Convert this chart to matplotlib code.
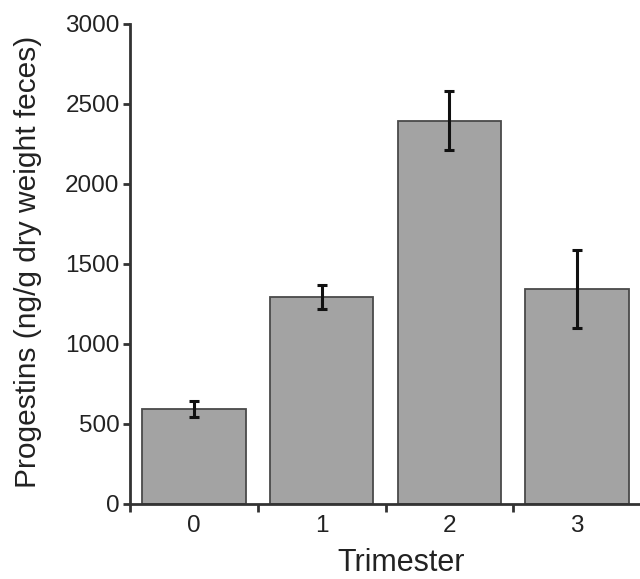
import matplotlib
matplotlib.use("Agg")
import matplotlib.pyplot as plt
from matplotlib.ticker import FixedLocator

categories = ["0", "1", "2", "3"]
values = [596, 1293, 2396, 1342]
errors = [50, 76, 185, 243]
yticks = [0, 500, 1000, 1500, 2000, 2500, 3000]

plt.rcParams['font.family'] = ['Liberation Sans', 'DejaVu Sans']

fig = plt.figure(figsize=(6.4, 5.79), dpi=100)
ax = fig.add_axes([130/640, 1-504/579, 511/640, 480/579])

x = list(range(len(categories)))
ax.bar(x, values, width=0.81, color='#a3a3a3', edgecolor='#4a4a4a', linewidth=1.3, zorder=2)
ax.errorbar(x, values, yerr=errors, fmt='none', ecolor='#111111', elinewidth=2.2,
            capsize=3.3, capthick=2.2, zorder=3)

ax.set_xlim(-0.5, 3.5)
ax.set_ylim(0, 3000)
ax.set_yticks(yticks)
ax.set_yticklabels([str(v) for v in yticks])
ax.set_xticks(x)
ax.set_xticklabels(categories)
ax.xaxis.set_minor_locator(FixedLocator([-0.5, 0.5, 1.5, 2.5, 3.5]))

for s in ['top', 'right']:
    ax.spines[s].set_visible(False)
for s in ['left', 'bottom']:
    ax.spines[s].set_linewidth(2.0)
    ax.spines[s].set_color('#333333')
    ax.spines[s].set_zorder(4)

ax.tick_params(axis='y', direction='out', length=5, width=2, color='#333333',
               labelsize=17.5, pad=2.5, labelcolor='#222222')
ax.tick_params(axis='x', which='major', length=0, labelsize=17.5, pad=8, labelcolor='#222222')
ax.tick_params(axis='x', which='minor', direction='out', length=6, width=2, color='#333333')

ax.set_xlabel('Trimester', fontsize=22, labelpad=8, color='#222222')
ax.set_ylabel('Progestins (ng/g dry weight feces)', fontsize=21.5, labelpad=17, color='#222222')
ax.xaxis.label.set_x(0.53)
ax.yaxis.label.set_y(0.505)

fig.savefig('out.png', dpi=100)
